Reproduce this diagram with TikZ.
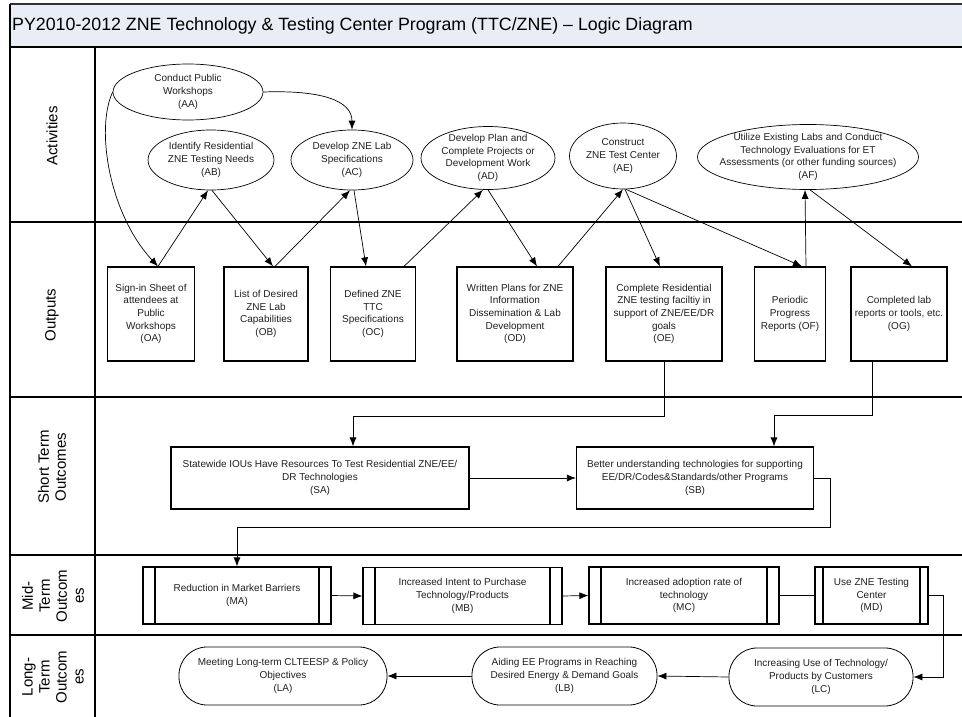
\documentclass[tikz,border=0pt]{standalone}
\usepackage{fontspec}
\setmainfont{Liberation Sans}
\usetikzlibrary{arrows.meta,shapes.geometric}
\definecolor{titlebg}{HTML}{E8EDF6}

\begin{document}
\begin{tikzpicture}[x=1pt, y=-1pt,
  txt/.style={align=center, font=\fontsize{10}{12.7}\selectfont, text=black!88},
  act/.style={draw, ellipse, inner sep=0pt, line width=0.7pt},
  outbox/.style={draw, line width=1.2pt, txt, inner sep=1pt},
  midbox/.style={outbox, path picture={
    \draw[line width=1.2pt] ([xshift=#1]path picture bounding box.north west) -- ([xshift=#1]path picture bounding box.south west)
      ([xshift=-#1]path picture bounding box.north east) -- ([xshift=-#1]path picture bounding box.south east);}},
  longbox/.style={draw, rounded corners=28pt, txt, inner sep=1pt, line width=0.8pt},
  lane/.style={rotate=90, align=center, font=\fontsize{15}{17}\selectfont},
  arr/.style={line width=0.7pt, -{Latex[length=9pt,width=7pt]}}]
\useasboundingbox (0,0) rectangle (962,717);

% frame and swim lanes
\fill[titlebg] (10,4) rectangle (962,47);
\draw[line width=2.5pt, black!80] (10,4) -- (962,4);
\draw[line width=1.5pt] (10,4) -- (10,717);
\draw[line width=1.5pt] (95,47) -- (95,717);
\foreach \y in {47,222,397,555,635}
  \draw[line width=1.5pt] (10,\y) -- (962,\y);
\node[anchor=west, inner sep=0pt, font=\fontsize{17.8}{20}\selectfont] (title) at (12,26)
  {PY2010-2012 ZNE Technology \& Testing Center Program (TTC/ZNE) – Logic Diagram};
\node[lane] (lact) at (52,136) {Activities};
\node[lane] (lout) at (52,315) {Outputs};
\node[lane] (lshort) at (52,467) {Short Term\\Outcomes};
\node[lane] (lmid) at (53,596) {Mid-\\Term\\Outcom\\es};
\node[lane] (llong) at (53,677) {Long-\\Term\\Outcom\\es};

% activities
\node[act, minimum width=150, minimum height=56, label={[txt]center:{Conduct Public\\Workshops\\(AA)}}] (AA) at (188,92) {};
\node[act, minimum width=126, minimum height=60, label={[txt]center:{Identify Residential\\ZNE Testing Needs\\(AB)}}] (AB) at (211,160) {};
\node[act, minimum width=122, minimum height=60, label={[txt]center:{Develop ZNE Lab\\Specifications\\(AC)}}] (AC) at (352,160) {};
\node[act, minimum width=134, minimum height=63, label={[txt]center:{Develop Plan and\\Complete Projects or\\Development Work\\(AD)}}] (AD) at (488,158) {};
\node[act, minimum width=107, minimum height=66, label={[txt]center:{Construct\\ZNE Test Center\\(AE)}}] (AE) at (623,156) {};
\node[act, minimum width=221, minimum height=65, label={[txt]center:{Utilize Existing Labs and Conduct\\Technology Evaluations for ET\\Assessments (or other funding sources)\\(AF)}}] (AF) at (808,157) {};

% outputs
\node[outbox, minimum width=87, minimum height=94] (OA) at (151,314) {Sign-in Sheet of\\attendees at\\Public\\Workshops\\(OA)};
\node[outbox, minimum width=84, minimum height=94] (OB) at (266,314) {List of Desired\\ZNE Lab\\Capabilities\\(OB)};
\node[outbox, minimum width=85, minimum height=94] (OC) at (373,314) {Defined ZNE\\TTC\\Specifications\\(OC)};
\node[outbox, minimum width=116, minimum height=94] (OD) at (515,314) {Written Plans for ZNE\\Information\\Dissemination \& Lab\\Development\\(OD)};
\node[outbox, minimum width=116, minimum height=94] (OE) at (664,314) {Complete Residential\\ZNE testing faciltiy in\\support of ZNE/EE/DR\\goals\\(OE)};
\node[outbox, minimum width=71, minimum height=94] (OF) at (790,314) {Periodic\\Progress\\Reports (OF)};
\node[outbox, minimum width=96, minimum height=94] (OG) at (899,314) {Completed lab\\reports or tools, etc.\\(OG)};

% short term outcomes
\node[outbox, minimum width=298, minimum height=62] (SA) at (320,478) {Statewide IOUs Have Resources To Test Residential ZNE/EE/\\DR Technologies\\(SA)};
\node[outbox, minimum width=237, minimum height=62] (SB) at (695,478) {Better understanding technologies for supporting\\EE/DR/Codes\&Standards/other Programs\\(SB)};

% mid-term outcomes
\node[midbox=12, minimum width=188, minimum height=57] (MA) at (237,595.5) {Reduction in Market Barriers\\(MA)};
\node[midbox=12, minimum width=199, minimum height=57] (MB) at (462.5,596) {Increased Intent to Purchase\\Technology/Products\\(MB)};
\node[midbox=12, minimum width=190, minimum height=57] (MC) at (684,595.5) {Increased adoption rate of\\technology\\(MC)};
\node[midbox=8, minimum width=113, minimum height=57] (MD) at (871.5,595.5) {Use ZNE Testing\\Center\\(MD)};

% long-term outcomes
\node[longbox, minimum width=208, minimum height=58] (LA) at (283,676) {Meeting Long-term CLTEESP \& Policy\\Objectives\\(LA)};
\node[longbox, minimum width=185, minimum height=58] (LB) at (564.5,676) {Aiding EE Programs in Reaching\\Desired Energy \& Demand Goals\\(LB)};
\node[longbox, minimum width=184, minimum height=58] (LC) at (821,677) {Increasing Use of Technology/\\Products by Customers\\(LC)};

% activities <-> outputs
\draw[arr] (AA.west) .. controls (95,130) and (110,215) .. ([xshift=7]OA.north);
\draw[arr] (AA.east) .. controls (320,90) and (352,100) .. (AC.north);
\draw[arr] ([xshift=7]OA.north) -- ([xshift=-3]AB.south);
\draw[arr] ([xshift=1]AB.south) -- ([xshift=7]OB.north);
\draw[arr] ([xshift=9]OB.north) -- ([xshift=-2]AC.south);
\draw[arr] ([xshift=2]AC.south) -- ([xshift=-7]OC.north);
\draw[arr] ([xshift=31]OC.north) -- ([xshift=-5]AD.south);
\draw[arr] (AD.south) -- ([xshift=22]OD.north);
\draw[arr] ([xshift=43]OD.north) -- (AE.south);
\draw[arr] ([xshift=2]AE.south) -- ([xshift=-4]OE.north);
\draw[arr] ([xshift=3]AE.south) -- ([xshift=12]OF.north);
\draw[arr] ([xshift=16]OF.north) -- ([xshift=-3]AF.south);
\draw[arr] ([xshift=2]AF.south) -- ([xshift=13]OG.north);

% outputs -> outcomes
\draw[arr] (OE.south) -- ++(0,55) -| ([xshift=33]SA.north);
\draw[arr] ([xshift=-27]OG.south) -- ++(0,54) -| ([xshift=79]SB.north);
\draw[arr] (SA.east) -- (SB.west);
\draw[arr] (SB.east) -- ++(16,0) -- ++(0,49) -| (MA.north);
\draw[arr] (MA.east) -- (MB.west);
\draw[arr] (MB.east) -- (MC.west);
\draw[line width=0.7pt] (MC.east) -- (MD.west);
\draw[arr] (MD.east) -- ++(15,0) |- (LC.east);
\draw[arr] (LC.west) -- (LB.east);
\draw[arr] (LB.west) -- (LA.east);
\end{tikzpicture}
\end{document}
